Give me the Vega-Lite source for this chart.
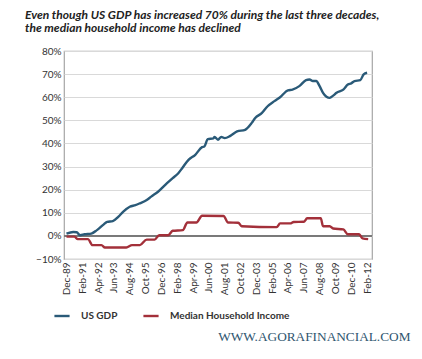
{
  "$schema": "https://vega.github.io/schema/vega-lite/v6.json",
  "autosize": {"type": "none"},
  "width": 308,
  "height": 208,
  "padding": {"left": 64, "top": 51, "right": 50, "bottom": 100},
  "background": "white",
  "view": {"stroke": "#a6a6a6", "strokeWidth": 1.2},
  "title": {
    "text": ["Even though US GDP has increased 70% during the last three decades,", "the median household income has declined"],
    "anchor": "start",
    "frame": "group",
    "dx": -39,
    "offset": 11,
    "font": "Lato",
    "fontSize": 12,
    "fontWeight": "bold",
    "fontStyle": "italic",
    "color": "#222222",
    "lineHeight": 13.5
  },
  "config": {
    "view": {"stroke": "#a6a6a6", "strokeWidth": 1.2},
    "font": "Lato"
  },
  "data": {"values": [
      {"date": "1989-12-01", "series": "US GDP", "value": 0.010},
      {"date": "1990-06-01", "series": "US GDP", "value": 0.017},
      {"date": "1990-09-01", "series": "US GDP", "value": 0.016},
      {"date": "1990-12-01", "series": "US GDP", "value": 0.003},
      {"date": "1991-04-01", "series": "US GDP", "value": 0.007},
      {"date": "1991-10-01", "series": "US GDP", "value": 0.010},
      {"date": "1992-03-01", "series": "US GDP", "value": 0.025},
      {"date": "1992-09-01", "series": "US GDP", "value": 0.050},
      {"date": "1992-12-01", "series": "US GDP", "value": 0.061},
      {"date": "1993-05-01", "series": "US GDP", "value": 0.064},
      {"date": "1993-10-01", "series": "US GDP", "value": 0.083},
      {"date": "1994-02-01", "series": "US GDP", "value": 0.104},
      {"date": "1994-08-01", "series": "US GDP", "value": 0.126},
      {"date": "1995-01-01", "series": "US GDP", "value": 0.133},
      {"date": "1995-05-01", "series": "US GDP", "value": 0.141},
      {"date": "1995-11-01", "series": "US GDP", "value": 0.155},
      {"date": "1996-03-01", "series": "US GDP", "value": 0.170},
      {"date": "1996-09-01", "series": "US GDP", "value": 0.191},
      {"date": "1997-05-01", "series": "US GDP", "value": 0.228},
      {"date": "1997-10-01", "series": "US GDP", "value": 0.250},
      {"date": "1998-03-01", "series": "US GDP", "value": 0.271},
      {"date": "1998-07-01", "series": "US GDP", "value": 0.297},
      {"date": "1998-12-01", "series": "US GDP", "value": 0.329},
      {"date": "1999-06-01", "series": "US GDP", "value": 0.351},
      {"date": "1999-12-01", "series": "US GDP", "value": 0.384},
      {"date": "2000-02-01", "series": "US GDP", "value": 0.387},
      {"date": "2000-05-01", "series": "US GDP", "value": 0.419},
      {"date": "2000-10-01", "series": "US GDP", "value": 0.422},
      {"date": "2000-11-01", "series": "US GDP", "value": 0.428},
      {"date": "2001-02-01", "series": "US GDP", "value": 0.416},
      {"date": "2001-05-01", "series": "US GDP", "value": 0.428},
      {"date": "2001-08-01", "series": "US GDP", "value": 0.423},
      {"date": "2002-01-01", "series": "US GDP", "value": 0.433},
      {"date": "2002-07-01", "series": "US GDP", "value": 0.452},
      {"date": "2003-02-01", "series": "US GDP", "value": 0.459},
      {"date": "2003-08-01", "series": "US GDP", "value": 0.489},
      {"date": "2003-11-01", "series": "US GDP", "value": 0.510},
      {"date": "2004-05-01", "series": "US GDP", "value": 0.532},
      {"date": "2004-10-01", "series": "US GDP", "value": 0.561},
      {"date": "2005-04-01", "series": "US GDP", "value": 0.583},
      {"date": "2005-09-01", "series": "US GDP", "value": 0.600},
      {"date": "2006-04-01", "series": "US GDP", "value": 0.630},
      {"date": "2006-08-01", "series": "US GDP", "value": 0.633},
      {"date": "2007-02-01", "series": "US GDP", "value": 0.648},
      {"date": "2007-08-01", "series": "US GDP", "value": 0.674},
      {"date": "2007-11-01", "series": "US GDP", "value": 0.677},
      {"date": "2008-02-01", "series": "US GDP", "value": 0.670},
      {"date": "2008-05-01", "series": "US GDP", "value": 0.670},
      {"date": "2008-08-01", "series": "US GDP", "value": 0.648},
      {"date": "2008-11-01", "series": "US GDP", "value": 0.619},
      {"date": "2009-02-01", "series": "US GDP", "value": 0.602},
      {"date": "2009-05-01", "series": "US GDP", "value": 0.597},
      {"date": "2009-08-01", "series": "US GDP", "value": 0.607},
      {"date": "2009-11-01", "series": "US GDP", "value": 0.619},
      {"date": "2010-05-01", "series": "US GDP", "value": 0.633},
      {"date": "2010-09-01", "series": "US GDP", "value": 0.655},
      {"date": "2010-12-01", "series": "US GDP", "value": 0.660},
      {"date": "2011-03-01", "series": "US GDP", "value": 0.670},
      {"date": "2011-08-01", "series": "US GDP", "value": 0.674},
      {"date": "2011-11-01", "series": "US GDP", "value": 0.699},
      {"date": "2012-02-01", "series": "US GDP", "value": 0.706},
      {"date": "1989-12-01", "series": "Median Household Income", "value": -0.003},
      {"date": "1990-07-01", "series": "Median Household Income", "value": -0.003},
      {"date": "1990-10-01", "series": "Median Household Income", "value": -0.014},
      {"date": "1991-07-01", "series": "Median Household Income", "value": -0.014},
      {"date": "1991-11-01", "series": "Median Household Income", "value": -0.040},
      {"date": "1992-07-01", "series": "Median Household Income", "value": -0.040},
      {"date": "1992-10-01", "series": "Median Household Income", "value": -0.050},
      {"date": "1994-05-01", "series": "Median Household Income", "value": -0.050},
      {"date": "1994-10-01", "series": "Median Household Income", "value": -0.040},
      {"date": "1995-05-01", "series": "Median Household Income", "value": -0.040},
      {"date": "1995-11-01", "series": "Median Household Income", "value": -0.016},
      {"date": "1996-06-01", "series": "Median Household Income", "value": -0.016},
      {"date": "1996-10-01", "series": "Median Household Income", "value": 0.003},
      {"date": "1997-06-01", "series": "Median Household Income", "value": 0.003},
      {"date": "1997-10-01", "series": "Median Household Income", "value": 0.022},
      {"date": "1998-07-01", "series": "Median Household Income", "value": 0.025},
      {"date": "1998-11-01", "series": "Median Household Income", "value": 0.058},
      {"date": "1999-07-01", "series": "Median Household Income", "value": 0.058},
      {"date": "1999-12-01", "series": "Median Household Income", "value": 0.087},
      {"date": "2001-07-01", "series": "Median Household Income", "value": 0.086},
      {"date": "2001-11-01", "series": "Median Household Income", "value": 0.058},
      {"date": "2002-08-01", "series": "Median Household Income", "value": 0.057},
      {"date": "2002-11-01", "series": "Median Household Income", "value": 0.042},
      {"date": "2005-06-01", "series": "Median Household Income", "value": 0.038},
      {"date": "2005-09-01", "series": "Median Household Income", "value": 0.054},
      {"date": "2006-06-01", "series": "Median Household Income", "value": 0.054},
      {"date": "2006-09-01", "series": "Median Household Income", "value": 0.060},
      {"date": "2007-06-01", "series": "Median Household Income", "value": 0.061},
      {"date": "2007-09-01", "series": "Median Household Income", "value": 0.076},
      {"date": "2008-09-01", "series": "Median Household Income", "value": 0.076},
      {"date": "2008-11-01", "series": "Median Household Income", "value": 0.042},
      {"date": "2009-05-01", "series": "Median Household Income", "value": 0.042},
      {"date": "2009-08-01", "series": "Median Household Income", "value": 0.032},
      {"date": "2010-05-01", "series": "Median Household Income", "value": 0.028},
      {"date": "2010-09-01", "series": "Median Household Income", "value": 0.007},
      {"date": "2011-07-01", "series": "Median Household Income", "value": 0.007},
      {"date": "2011-10-01", "series": "Median Household Income", "value": -0.011},
      {"date": "2012-03-01", "series": "Median Household Income", "value": -0.014}
  ]},
  "encoding": {
    "y": {
      "field": "value",
      "type": "quantitative",
      "scale": {"domain": [-0.1, 0.8], "nice": false, "zero": false},
      "axis": {
        "values": [-0.1, 0, 0.1, 0.2, 0.3, 0.4, 0.5, 0.6, 0.7, 0.8],
        "format": ".0%",
        "labelFontSize": 10,
        "labelColor": "#333333",
        "labelPadding": 3,
        "labelOverlap": false,
        "labelFlush": false,
        "labelBound": false,
        "grid": true,
        "gridColor": "#d9d9d9",
        "gridWidth": 1,
        "ticks": false,
        "domain": false,
        "title": null
      }
    }
  },
  "layer": [
    {
      "mark": {"type": "rule", "color": "#7a7a7a", "strokeWidth": 1.2},
      "encoding": {"y": {"datum": 0}}
    },
    {
      "mark": {"type": "line", "strokeWidth": 2.4, "interpolate": "monotone"},
      "encoding": {
        "x": {
          "field": "date",
          "type": "temporal",
          "scale": {"domain": ["1989-09-25", "2012-06-12"]},
          "axis": {
            "values": ["1989-12-01", "1991-02-01", "1992-04-01", "1993-06-01", "1994-08-01", "1995-10-01", "1996-12-01", "1998-02-01", "1999-04-01", "2000-06-01", "2001-08-01", "2002-10-01", "2003-12-01", "2005-02-01", "2006-04-01", "2007-06-01", "2008-08-01", "2009-10-01", "2010-12-01", "2012-02-01"],
            "format": "%b-%y",
            "labelAngle": 270,
            "labelFontSize": 10,
            "labelColor": "#333333",
            "labelPadding": 3,
            "labelFlush": false,
            "labelOverlap": false,
            "labelBound": false,
            "grid": false,
            "ticks": false,
            "domain": false,
            "title": "WWW.AGORAFINANCIAL.COM",
            "titleFont": "Liberation Serif",
            "titleFontSize": 13.3,
            "titleFontWeight": "normal",
            "titleColor": "#2f5670",
            "titleAlign": "right",
            "titleAnchor": "end",
            "titleBaseline": "alphabetic",
            "titleX": 346,
            "titleY": 81
          }
        },
        "color": {
          "field": "series",
          "type": "nominal",
          "scale": {"domain": ["US GDP", "Median Household Income"], "range": ["#2a5a78", "#a3303a"]},
          "legend": {
            "title": null,
            "orient": "none",
            "direction": "horizontal",
            "legendX": -11,
            "legendY": 256,
            "symbolType": "stroke",
            "symbolSize": 230,
            "symbolStrokeWidth": 2.4,
            "labelFontSize": 10,
            "labelFontWeight": "bold",
            "labelColor": "#333333",
            "labelOffset": 10,
            "columnPadding": 20
          }
        }
      }
    }
  ]
}
